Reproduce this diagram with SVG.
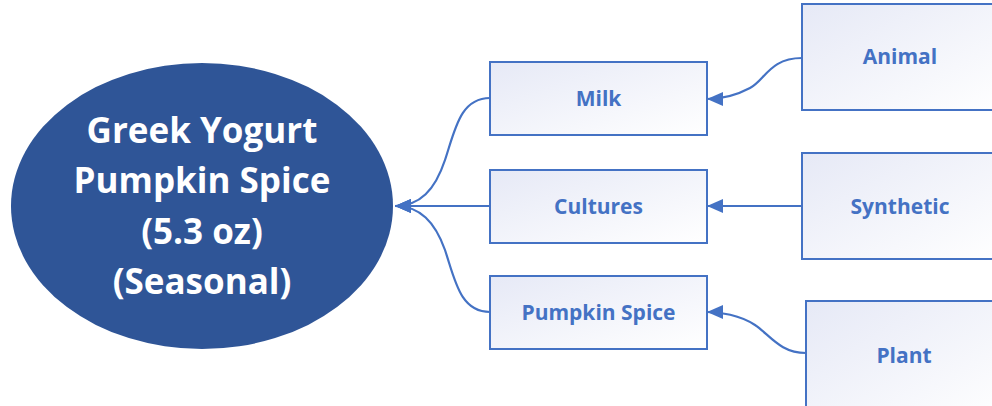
<svg xmlns="http://www.w3.org/2000/svg" width="992" height="406" viewBox="0 0 992 406">
<defs>
<linearGradient id="bg" x1="0" y1="0" x2="1" y2="1">
<stop offset="0" stop-color="#E6E9F6"/>
<stop offset="1" stop-color="#FFFFFF"/>
</linearGradient>
<marker id="arrow" viewBox="0 0 16 14" refX="16" refY="7" markerWidth="16" markerHeight="14" markerUnits="userSpaceOnUse" orient="auto">
<path d="M0,0 L16,7 L0,14 z" fill="#4472C4"/>
</marker>
</defs>
<style>
.box{fill:url(#bg);stroke:#4472C4;stroke-width:2}
.lbl{font-family:"Open Sans","Liberation Sans",sans-serif;font-weight:bold;font-size:21px;fill:#4472C4;text-anchor:middle}
.main{font-family:"Open Sans","Liberation Sans",sans-serif;font-weight:bold;font-size:35px;fill:#FFFFFF;text-anchor:middle}
.con{fill:none;stroke:#4472C4;stroke-width:2.2}
</style>
<g id="root">
<ellipse cx="202" cy="206" rx="191" ry="143" fill="#2F5597"/>
<text class="main" x="202" y="143">Greek Yogurt</text>
<text class="main" x="202" y="193">Pumpkin Spice</text>
<text class="main" x="202" y="244">(5.3 oz)</text>
<text class="main" x="202" y="294">(Seasonal)</text>
</g>
<g id="milk">
<rect class="box" x="490" y="62" width="217" height="73"/>
<text class="lbl" x="598.5" y="106">Milk</text>
</g>
<g id="cultures">
<rect class="box" x="490" y="170" width="217" height="73"/>
<text class="lbl" x="598.5" y="214">Cultures</text>
</g>
<g id="pumpkin">
<rect class="box" x="490" y="276" width="217" height="73"/>
<text class="lbl" x="598.5" y="320">Pumpkin Spice</text>
</g>
<g id="animal">
<rect class="box" x="802" y="4" width="200" height="106"/>
<text class="lbl" x="900" y="64">Animal</text>
</g>
<g id="synthetic">
<rect class="box" x="802" y="153" width="200" height="106"/>
<text class="lbl" x="900" y="214">Synthetic</text>
</g>
<g id="plant">
<rect class="box" x="806" y="301" width="200" height="120"/>
<text class="lbl" x="904" y="363">Plant</text>
</g>
<g id="connectors">
<path class="con" marker-end="url(#arrow)" d="M490,98 C460,98 455,130 445,160 C435,190 420,206 395,206"/>
<path class="con" marker-end="url(#arrow)" d="M490,206 L395,206"/>
<path class="con" marker-end="url(#arrow)" d="M490,312 C460,312 455,280 445,250 C435,222 420,206 395,206"/>
<path class="con" marker-end="url(#arrow)" d="M802,58 C770,58 765,80 750,88 C735,96 720,99 707,99"/>
<path class="con" marker-end="url(#arrow)" d="M802,206 L707,206"/>
<path class="con" marker-end="url(#arrow)" d="M806,353 C780,353 770,335 755,325 C740,315 720,312 707,312"/>
</g>
</svg>
